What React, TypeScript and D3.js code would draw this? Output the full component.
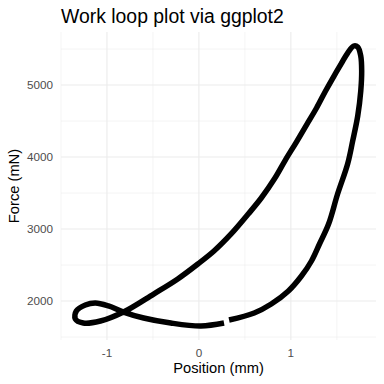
import React from "react";
import * as d3 from "d3";

const positionMm: number[] = [
  0.328, 0.601, 0.787, 0.973, 1.115, 1.224, 1.311, 1.41, 1.508, 1.617, 1.672, 1.727,
  1.76, 1.77, 1.76, 1.727, 1.683, 1.617, 1.552, 1.475, 1.377, 1.279, 1.169, 1.06,
  0.94, 0.82, 0.678, 0.536, 0.35, 0.164, -0.011, -0.23, -0.492, -0.82, -1.071,
  -1.257, -1.344, -1.333, -1.235, -1.126, -0.984, -0.82, -0.601, -0.306, 0.022, 0.273,
];
const forceMn: number[] = [
  1736, 1833, 1958, 2139, 2347, 2556, 2792, 3069, 3486, 3903, 4222, 4569,
  4917, 5194, 5403, 5528, 5542, 5444, 5306, 5139, 4917, 4681, 4444, 4208,
  3958, 3694, 3431, 3208, 2931, 2694, 2514, 2306, 2097, 1847, 1722,
  1694, 1750, 1861, 1944, 1972, 1931, 1847, 1764, 1694, 1653, 1694,
];
const xTicks: number[] = [-1, 0, 1];
const xMinor: number[] = [-1.5, -0.5, 0.5, 1.5];
const yTicks: number[] = [2000, 3000, 4000, 5000];
const yMinor: number[] = [1500, 2500, 3500, 4500, 5500];

const W = 384;
const H = 384;
const panel = { left: 61, right: 376, top: 32, bottom: 340 };

function expand(ext: [number, number], f = 0.05): [number, number] {
  const r = ext[1] - ext[0];
  return [ext[0] - r * f, ext[1] + r * f];
}

export default function App() {
  const xExt = d3.extent(positionMm) as [number, number];
  const yExt = d3.extent(forceMn) as [number, number];
  const x = d3.scaleLinear().domain(expand(xExt)).range([panel.left, panel.right]);
  const y = d3.scaleLinear().domain(expand(yExt)).range([panel.bottom, panel.top]);
  const pts: [number, number][] = positionMm.map((p, i) => [p, forceMn[i]]);
  const line = d3
    .line<[number, number]>()
    .x((d) => x(d[0]))
    .y((d) => y(d[1]))
    .curve(d3.curveCatmullRom.alpha(0.5));
  const font = "'Liberation Sans', Arial, sans-serif";
  const grid = "#EBEBEB";
  return (
    <svg
      width={W}
      height={H}
      style={{ position: "absolute", left: 0, top: 0, background: "#fff" }}
      fontFamily={font}
    >
      <rect width={W} height={H} fill="#fff" />
      {xMinor.map((t) => (
        <line key={"xm" + t} x1={x(t)} x2={x(t)} y1={panel.top} y2={panel.bottom} stroke={grid} strokeWidth={0.55} />
      ))}
      {yMinor.map((t) => (
        <line key={"ym" + t} x1={panel.left} x2={panel.right} y1={y(t)} y2={y(t)} stroke={grid} strokeWidth={0.55} />
      ))}
      {xTicks.map((t) => (
        <line key={"xg" + t} x1={x(t)} x2={x(t)} y1={panel.top} y2={panel.bottom} stroke={grid} strokeWidth={1.1} />
      ))}
      {yTicks.map((t) => (
        <line key={"yg" + t} x1={panel.left} x2={panel.right} y1={y(t)} y2={y(t)} stroke={grid} strokeWidth={1.1} />
      ))}
      <path d={line(pts) || ""} fill="none" stroke="#000" strokeWidth={5.5} strokeLinecap="butt" strokeLinejoin="round" />
      {xTicks.map((t) => (
        <text key={"xl" + t} x={x(t)} y={357} textAnchor="middle" fontSize={11.7} fill="#4D4D4D">
          {String(t)}
        </text>
      ))}
      {yTicks.map((t) => (
        <text key={"yl" + t} x={53} y={y(t) + 4.2} textAnchor="end" fontSize={11.7} fill="#4D4D4D">
          {String(t)}
        </text>
      ))}
      <text x={(panel.left + panel.right) / 2} y={373} textAnchor="middle" fontSize={14.7} fill="#000">
        Position (mm)
      </text>
      <text
        transform={`translate(19,${(panel.top + panel.bottom) / 2}) rotate(-90)`}
        textAnchor="middle"
        fontSize={14.7}
        fill="#000"
      >
        Force (mN)
      </text>
      <text x={61} y={23} fontSize={19.4} fill="#000">
        Work loop plot via ggplot2
      </text>
    </svg>
  );
}
